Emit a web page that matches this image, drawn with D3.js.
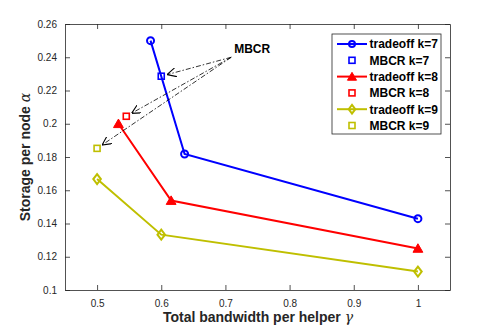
<!DOCTYPE html>
<html>
<head>
<meta charset="utf-8">
<script src="https://cdn.jsdelivr.net/npm/d3@7"></script>
<style>
  body { margin: 0; background: #fff; }
  text { font-family: "Liberation Sans", Arial, sans-serif; }
</style>
</head>
<body>
<div id="chart"></div>
<script>
const width = 498;
const height = 330;
const margin = { top: 24, right: 48, bottom: 40, left: 65 };

// series values
const tradeoff7 = [[0.5833, 0.25], [0.6364, 0.1818], [1, 0.1429]];
const tradeoff8 = [[0.5333, 0.2], [0.6154, 0.1538], [1, 0.125]];
const tradeoff9 = [[0.5, 0.1667], [0.6, 0.1333], [1, 0.1111]];
const mbcr7 = [0.6, 0.2286];
const mbcr8 = [0.5455, 0.2045];
const mbcr9 = [0.5, 0.1852];
const xTicks = [0.5, 0.6, 0.7, 0.8, 0.9, 1];
const yTicks = [0.1, 0.12, 0.14, 0.16, 0.18, 0.2, 0.22, 0.24, 0.26];
const annotAnchor = [0.709, 0.24];

const series = [
    { name: "tradeoff k=7", color: "#0000ff", pts: tradeoff7, marker: "circle", mbcr: mbcr7, mname: "MBCR k=7" },
    { name: "tradeoff k=8", color: "#ff0000", pts: tradeoff8, marker: "triangle", mbcr: mbcr8, mname: "MBCR k=8" },
    { name: "tradeoff k=9", color: "#bfbf00", pts: tradeoff9, marker: "diamond", mbcr: mbcr9, mname: "MBCR k=9" }
];

const svg = d3.select("#chart").append("svg")
    .attr("width", width)
    .attr("height", height);

const x = d3.scaleLinear().domain([0.45, 1.05]).range([margin.left, width - margin.right]);
const y = d3.scaleLinear().domain([0.1, 0.26]).range([height - margin.bottom, margin.top]);

const fmt = d => d3.format("~g")(d);
const axisColor = "#262626";

// axes (MATLAB box style, ticks inward)
const gx = svg.append("g").attr("transform", `translate(0,${y.range()[0]})`)
    .call(d3.axisBottom(x).tickValues(xTicks).tickFormat(fmt).tickSizeInner(-5).tickSizeOuter(0).tickPadding(10));
const gxTop = svg.append("g").attr("transform", `translate(0,${margin.top})`)
    .call(d3.axisTop(x).tickValues(xTicks).tickFormat("").tickSizeInner(-5).tickSizeOuter(0));
const gy = svg.append("g").attr("transform", `translate(${margin.left},0)`)
    .call(d3.axisLeft(y).tickValues(yTicks).tickFormat(fmt).tickSizeInner(-5).tickSizeOuter(0).tickPadding(8));
const gyRight = svg.append("g").attr("transform", `translate(${x.range()[1]},0)`)
    .call(d3.axisRight(y).tickValues(yTicks).tickFormat("").tickSizeInner(-5).tickSizeOuter(0));

[gx, gxTop, gy, gyRight].forEach(g => {
    g.select(".domain").attr("stroke", axisColor).attr("stroke-width", 0.8);
    g.selectAll(".tick line").attr("stroke", axisColor).attr("stroke-width", 0.8);
    g.selectAll(".tick text").attr("fill", axisColor).style("font-size", "10px");
});

// axis labels
svg.append("text")
    .attr("x", 258)
    .attr("y", 322)
    .attr("text-anchor", "middle")
    .attr("fill", axisColor)
    .style("font-size", "14px")
    .style("font-weight", "bold")
    .html('Total bandwidth per helper <tspan font-family="DejaVu Serif" font-style="italic" font-weight="normal">γ</tspan>');

svg.append("text")
    .attr("transform", `translate(30,${(y.range()[0] + y.range()[1]) / 2}) rotate(-90)`)
    .attr("text-anchor", "middle")
    .attr("fill", axisColor)
    .style("font-size", "14px")
    .style("font-weight", "bold")
    .html('Storage per node <tspan font-family="DejaVu Serif" font-style="italic" font-weight="normal">α</tspan>');

const line = d3.line().x(d => x(d[0])).y(d => y(d[1]));

function drawMarker(g, type, cx, cy, color, small) {
    if (type === "circle") {
        g.append("circle").attr("cx", cx).attr("cy", cy).attr("r", small ? 3 : 3.5)
            .attr("fill", "none").attr("stroke", color).attr("stroke-width", 2);
    } else if (type === "triangle") {
        g.append("path").attr("d", d3.symbol(d3.symbolTriangle, small ? 36 : 42)())
            .attr("transform", `translate(${cx},${cy + 1})`)
            .attr("fill", color).attr("stroke", color).attr("stroke-width", 1);
    } else if (type === "diamond") {
        const h = small ? 4.3 : 5, w = small ? 3.3 : 3.8;
        g.append("path").attr("d", `M0,${-h}L${w},0L0,${h}L${-w},0Z`)
            .attr("transform", `translate(${cx},${cy})`)
            .attr("fill", "none").attr("stroke", color).attr("stroke-width", 2);
    } else if (type === "square") {
        g.append("rect").attr("x", cx - 3).attr("y", cy - 3).attr("width", 6).attr("height", 6)
            .attr("fill", "none").attr("stroke", color).attr("stroke-width", 1.6);
    }
}

const plot = svg.append("g");
series.forEach(s => {
    plot.append("path").datum(s.pts).attr("d", line)
        .attr("fill", "none").attr("stroke", s.color).attr("stroke-width", 2);
    s.pts.forEach(p => drawMarker(plot, s.marker, x(p[0]), y(p[1]), s.color));
});
series.forEach(s => drawMarker(plot, "square", x(s.mbcr[0]), y(s.mbcr[1]), s.color));

// annotation arrows
svg.append("defs").append("marker")
    .attr("id", "arrow").attr("viewBox", "0 0 10 10").attr("refX", 10).attr("refY", 5)
    .attr("markerWidth", 9).attr("markerHeight", 9).attr("markerUnits", "userSpaceOnUse")
    .attr("orient", "auto")
    .append("path").attr("d", "M0,0L10,5L0,10").attr("fill", "none").attr("stroke", "#000").attr("stroke-width", 1.2);

const ax = x(annotAnchor[0]), ay = y(annotAnchor[1]);
series.forEach(s => {
    const tx = x(s.mbcr[0]), ty = y(s.mbcr[1]);
    const dx = ax - tx, dy = ay - ty, len = Math.hypot(dx, dy);
    const ex = tx + dx / len * 6, ey = ty + dy / len * 6;
    svg.append("line").attr("x1", ax).attr("y1", ay).attr("x2", ex).attr("y2", ey)
        .attr("stroke", "#000").attr("stroke-width", 0.8)
        .attr("stroke-dasharray", "5,2,1.5,2")
        .attr("marker-end", "url(#arrow)");
});
svg.append("text").attr("x", ax + 3).attr("y", ay - 4)
    .style("font-size", "12px").style("font-weight", "bold").text("MBCR");

// legend
const lg = svg.append("g").attr("transform", "translate(332,34)");
lg.append("rect").attr("width", 109).attr("height", 100)
    .attr("fill", "#fff").attr("stroke", axisColor).attr("stroke-width", 0.8);
const rows = [];
series.forEach(s => {
    rows.push({ label: s.name, color: s.color, marker: s.marker, line: true });
    rows.push({ label: s.mname, color: s.color, marker: "square", line: false });
});
rows.forEach((r, i) => {
    const cy = 10 + i * 16.3;
    if (r.line) {
        lg.append("line").attr("x1", 5).attr("x2", 35).attr("y1", cy).attr("y2", cy)
            .attr("stroke", r.color).attr("stroke-width", 2);
    }
    drawMarker(lg, r.marker, 20, cy, r.color, true);
    lg.append("text").attr("x", 37.5).attr("y", cy + 4.3)
        .style("font-size", "12px").style("font-weight", "bold").attr("fill", "#000").text(r.label);
});
</script>
</body>
</html>
